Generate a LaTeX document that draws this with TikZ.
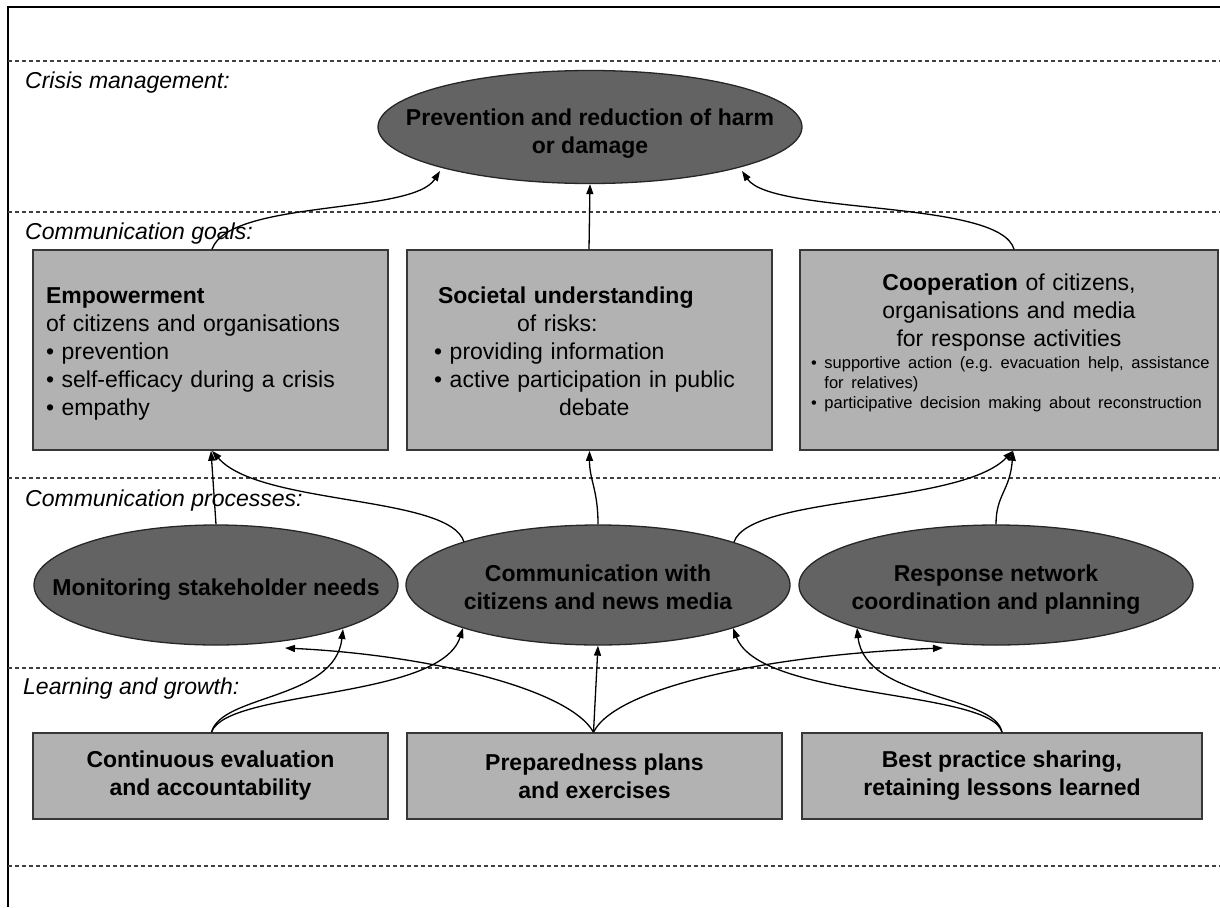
\documentclass[tikz,border=0pt]{standalone}
\usepackage{fontspec}
\setmainfont{Liberation Sans}
\usetikzlibrary{shapes.geometric,arrows.meta,calc}

\definecolor{boxgray}{gray}{0.70}
\definecolor{ellgray}{gray}{0.39}
\definecolor{edgegray}{gray}{0.22}
\definecolor{dashgray}{gray}{0.25}

% text set inside an ellipse: first baseline #1 above the centre, no size of its own
\newcommand{\elltext}[2]{\makebox[0pt]{\raisebox{#1}[0pt][0pt]{\begin{tabular}[t]{@{}c@{}}#2\end{tabular}}}}

\begin{document}
\frenchspacing
\begin{tikzpicture}[x=1pt,y=-1pt,
  every node/.style={font=\fontsize{23}{28}\selectfont},
  goalbox/.style={rectangle, draw=edgegray, line width=1.6pt, fill=boxgray,
    inner sep=0pt},
  procell/.style={ellipse, draw=black!85, line width=1.3pt, fill=ellgray,
    inner sep=0pt, font=\fontsize{23}{28}\selectfont\bfseries},
  layerline/.style={draw=dashgray, line width=1.2pt, dash pattern=on 4pt off 3pt},
  layerlabel/.style={anchor=west, inner sep=0pt,
    font=\fontsize{23}{28}\selectfont\itshape},
  flow/.style={line width=1.3pt, -{Triangle[length=10pt,width=7pt]}},
]
\useasboundingbox (0,0) rectangle (1220,907);

% frame and layer separators
\draw[line width=2.5pt] (8,907) -- (8,7) -- (1220,7);
\foreach \yy in {61,212,478,668,866}
  \draw[layerline] (8,\yy) -- (1220,\yy);

% layer titles
\node[layerlabel] (lcrisis) at (25,83)  {Crisis management:};
\node[layerlabel] (lgoals)  at (25,234) {Communication goals:};
\node[layerlabel] (lproc)   at (25,501) {Communication processes:};
\node[layerlabel] (llearn)  at (23,689) {Learning and growth:};

% crisis management
\node[procell, minimum width=424, minimum height=113] (harm) at (590,127)
  {\elltext{2pt}{Prevention and reduction of harm\\or damage}};

% communication goals
\node[goalbox, minimum width=355, minimum height=200, text width=329,
      inner xsep=13pt, align=left] (emp) at (210.5,350)
  {\rule{0pt}{23pt}\textbf{Empowerment}\\of citizens and organisations\\• prevention\\• self-efficacy during a crisis\\• empathy};
\node[goalbox, minimum width=365, minimum height=200, text width=311,
      inner xsep=27pt, align=left] (soc) at (589.5,350)
  {\rule{0pt}{20pt}\hspace*{4pt}\textbf{Societal understanding}\\\hspace*{83pt}of risks:\\• providing information\\• active participation in public\\\hspace*{125pt}debate};
\node[goalbox, minimum width=418, minimum height=200, text width=396,
      inner xsep=11pt, align=center] (coop) at (1009,350)
  {\textbf{Cooperation} of citizens,\\organisations and media\\for response activities\\[-6pt]
   {\fontsize{16.5}{20}\selectfont\begin{tabular}[t]{@{}l@{}}• supportive action (e.g. evacuation help, assistance\\\hphantom{• }for relatives)\\• participative decision making about reconstruction\rule[-17pt]{0pt}{0pt}\end{tabular}}};

% communication processes
\node[procell, minimum width=364, minimum height=120] (mon) at (216,585)
  {\elltext{-10pt}{Monitoring stakeholder needs}};
\node[procell, minimum width=384, minimum height=120] (com) at (598,585)
  {\elltext{4pt}{Communication with\\citizens and news media}};
\node[procell, minimum width=394, minimum height=120] (resp) at (996,585)
  {\elltext{4pt}{Response network\\coordination and planning}};

% learning and growth
\node[goalbox, minimum width=355, minimum height=86, align=center,
      font=\fontsize{23}{28}\selectfont\bfseries] (eval) at (210.5,776)
  {Continuous evaluation\\and accountability};
\node[goalbox, minimum width=375, minimum height=86, align=center,
      font=\fontsize{23}{28}\selectfont\bfseries] (prep) at (594.5,776)
  {Preparedness plans\\and exercises};
\node[goalbox, minimum width=400, minimum height=86, align=center,
      font=\fontsize{23}{28}\selectfont\bfseries] (best) at (1002,776)
  {Best practice sharing,\\retaining lessons learned};

% goals -> crisis management
\draw[flow] ([xshift=1.5pt]emp.north) .. controls +(18,-50) and +(-28,44) .. ($(harm.center)+(-150,44)$);
\draw[flow] ([xshift=-0.5pt]soc.north) -- (harm.south);
\draw[flow] ([xshift=5pt]coop.north) .. controls +(-14,-50) and +(30,44) .. ($(harm.center)+(152,44)$);

% processes -> goals
\draw[flow] (mon.north) -- ([xshift=0.5pt]emp.south);
\draw[flow] ($(com.center)+(-134,-43)$) .. controls +(-14,-47) and +(48,55) .. ([xshift=1.5pt]emp.south);
\draw[flow] (com.north) .. controls +(0,-35) and +(0,30) .. (soc.south);
\draw[flow] ($(com.center)+(136,-43)$) .. controls +(16,-47) and +(-53,55) .. ([xshift=4pt]coop.south);
\draw[flow] (resp.north) .. controls +(0,-30) and +(-3,40) .. ([xshift=4pt]coop.south);

% learning -> processes
\draw[flow] ([xshift=1pt]eval.north) .. controls +(10,-38) and +(-8,71) .. ($(mon.center)+(127,44)$);
\draw[flow] ([xshift=1pt]eval.north) .. controls +(15,-43) and +(-23,72) .. ($(com.center)+(-135,43)$);
\draw[flow] ([xshift=-1pt]prep.north) -- (com.south);
\draw[flow] ([xshift=-1pt]prep.north) .. controls +(-24,-43) and +(145,7) .. ($(mon.center)+(69,63)$);
\draw[flow] ([xshift=-1pt]prep.north) .. controls +(21,-43) and +(-183,7) .. ($(resp.center)+(-53,63)$);
\draw[flow] (best.north) .. controls +(-12,-43) and +(27,72) .. ($(com.center)+(135,43)$);
\draw[flow] (best.north) .. controls +(-7,-38) and +(8,72) .. ($(resp.center)+(-139,43)$);
\end{tikzpicture}
\end{document}
